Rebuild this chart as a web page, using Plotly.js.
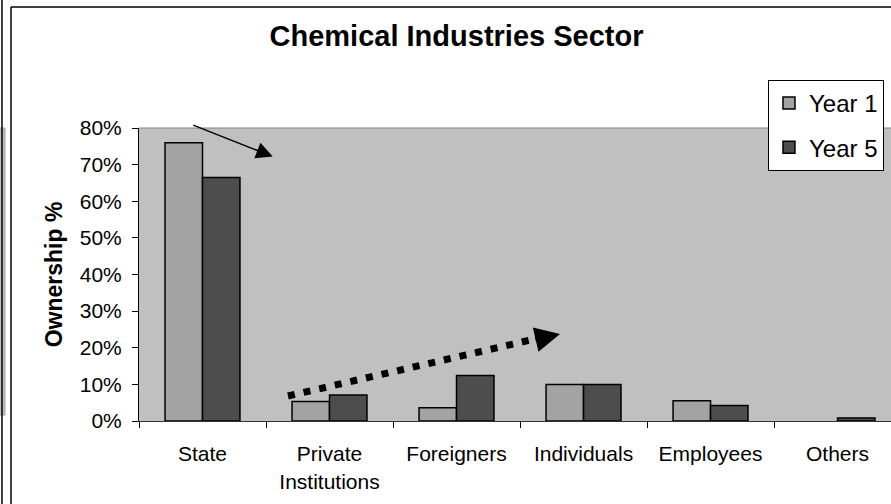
<!DOCTYPE html>
<html>
<head>
<meta charset="utf-8">
<script src="https://cdn.plot.ly/plotly-3.0.1.min.js"></script>
<style>html,body{margin:0;padding:0;background:#fff;}#chart{width:891px;height:504px;}</style>
</head>
<body>
<div id="chart"></div>
<script>
const categories = ["State", "Private<br>Institutions", "Foreigners", "Individuals", "Employees", "Others"];
const year1 = [0.76, 0.053, 0.036, 0.10, 0.055, 0.0];
const year5 = [0.665, 0.071, 0.124, 0.10, 0.042, 0.008];
const seriesNames = ["Year 1", "Year 5"];
const yTickVals = [0, 0.1, 0.2, 0.3, 0.4, 0.5, 0.6, 0.7, 0.8];

const FONT = "Liberation Sans, Arial, sans-serif";
const outlineWidths = vals => vals.map(v => (v > 0 ? 1.5 : 0));

const traces = [
  {type: "bar", name: seriesNames[0], x: categories, y: year1, legendgroup: "g1",
   marker: {color: "#a3a3a3", line: {color: "#000", width: outlineWidths(year1)}}},
  {type: "bar", name: seriesNames[1], x: categories, y: year5, legendgroup: "g2",
   marker: {color: "#4d4d4d", line: {color: "#000", width: outlineWidths(year5)}}}
];

const layout = {
  width: 891, height: 504,
  margin: {l: 139, r: 0, t: 128, b: 83},
  paper_bgcolor: "#ffffff",
  plot_bgcolor: "#c0c0c0",
  font: {family: FONT, color: "#000", size: 21},
  title: {text: "<b>Chemical Industries Sector</b>", font: {family: FONT, size: 29, color: "#000"},
          x: 456.5/891, xref: "container", xanchor: "center", y: 1 - 36/504, yref: "container", yanchor: "middle"},
  barmode: "group",
  bargap: 0.41,
  bargroupgap: 0,
  showlegend: true,
  legend: {x: 0.8364, xanchor: "left", y: 1.164, yanchor: "top", bgcolor: "#fff",
           bordercolor: "#000", borderwidth: 1, font: {family: FONT, size: 24, color: "#000"},
           tracegroupgap: 10},
  xaxis: {type: "category", range: [-0.5, 5.421], tickson: "boundaries", ticks: "outside", ticklen: 6,
          tickcolor: "#000", showline: true, linecolor: "#333", linewidth: 1, showgrid: false,
          ticklabelstandoff: 14,
          tickfont: {family: FONT, size: 21, color: "#000"}, fixedrange: true},
  yaxis: {range: [0, 0.8], tickvals: yTickVals, tickformat: ".0%", ticks: "outside", ticklen: 6,
          tickcolor: "#000", showline: true, linecolor: "#000", linewidth: 1, showgrid: false, zeroline: false,
          ticklabelstandoff: 6,
          tickfont: {family: FONT, size: 21, color: "#000"},
          title: {text: "<b>Ownership %</b>", font: {family: FONT, size: 23, color: "#000"}, standoff: 10}},
  shapes: [
    {type: "line", xref: "paper", yref: "paper", x0: 0, x1: 1, y0: 1, y1: 1, line: {color: "#808080", width: 1}},
    {type: "line", xref: "paper", yref: "paper", x0: -0.1702, x1: 1.0, y0: 1.413, y1: 1.413, line: {color: "#000", width: 1.5}},
    {type: "line", xref: "paper", yref: "paper", x0: -0.1702, x1: -0.1702, y0: 1.413, y1: -0.29, line: {color: "#000", width: 1.5}},
    {type: "rect", xref: "paper", yref: "paper", x0: -0.19, x1: -0.1782, y0: 1.0, y1: 0.0205, fillcolor: "#c0c0c0", line: {color: "#a0a0a0", width: 1}},
    {type: "line", xref: "paper", yref: "paper", x0: -0.1822, x1: -0.1822, y0: 1.44, y1: -0.29, line: {color: "#000", width: 1.5}},
    {type: "line", xref: "x", yref: "y", x0: 0.673, y0: 0.0683, x1: 2.579, y1: 0.2208,
     line: {color: "#000", width: 7, dash: "7px,9px"}}
  ],
  annotations: [
    {xref: "x", yref: "y", x: 0.553, y: 0.722, text: "", showarrow: true, ax: -81, ay: -32,
     arrowhead: 2, arrowsize: 2.2, arrowwidth: 1.5, arrowcolor: "#000", standoff: 0},
    {xref: "x", yref: "y", x: 2.815, y: 0.2377, text: "", showarrow: true, ax: -26, ay: 6,
     arrowhead: 2, arrowsize: 1, arrowwidth: 5, arrowcolor: "#000", standoff: 0}
  ]
};

Plotly.newPlot("chart", traces, layout, {displayModeBar: false, staticPlot: true});
</script>
</body>
</html>
